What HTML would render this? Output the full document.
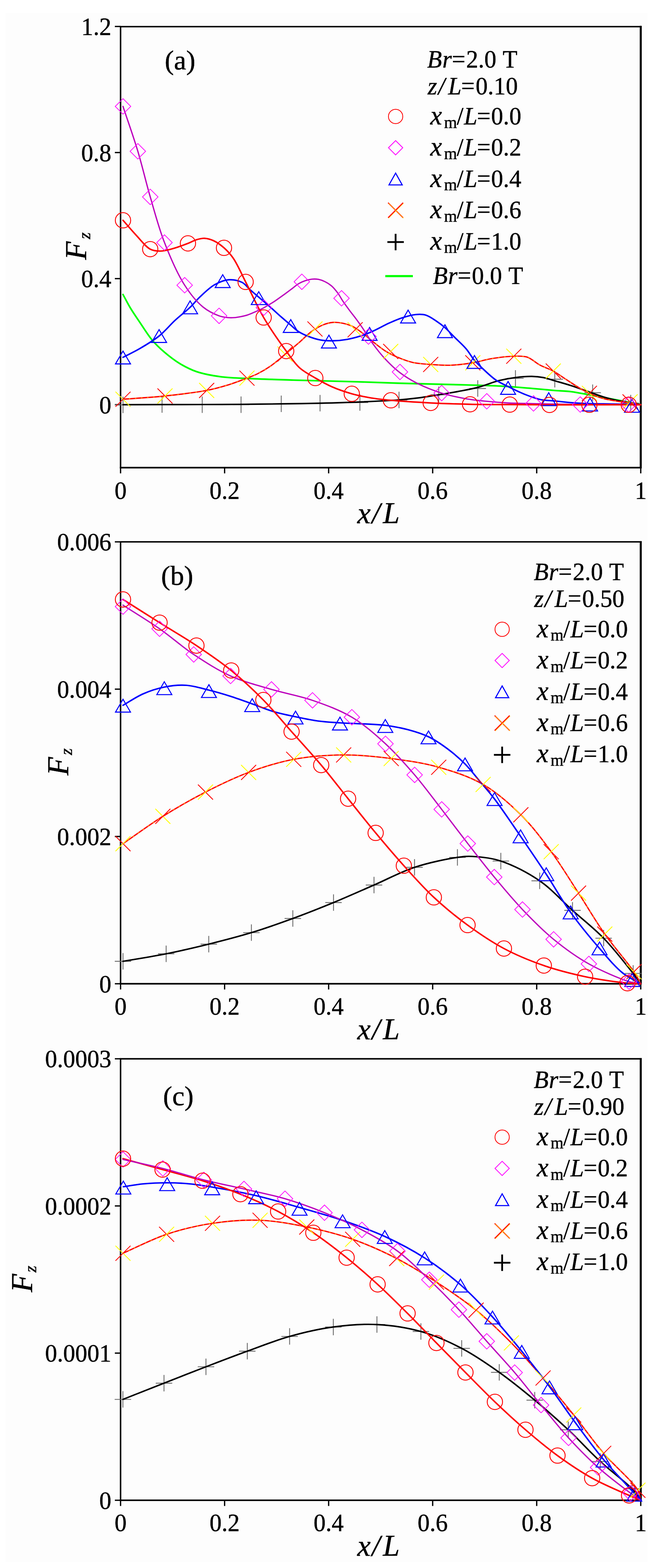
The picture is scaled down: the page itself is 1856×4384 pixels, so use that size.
<!DOCTYPE html>
<html><head><meta charset="utf-8"><title>Fz vs x/L</title>
<style>html,body{margin:0;padding:0;background:#fff;width:1856px;height:4384px;overflow:hidden}svg{display:block}</style>
</head><body>
<svg width="1856" height="4384" viewBox="0 0 1856 4384" font-family="'Liberation Serif', serif" fill="#000">
<style>text{stroke:#000;stroke-width:0.7px;paint-order:stroke}</style>
<rect x="0" y="0" width="1856" height="4384" fill="#ffffff"/>
<rect x="16" y="36" width="1794" height="4331" fill="#fdfdfd"/>
<path d="M1791.0,74.5V1307.5H337.0" fill="none" stroke="#000" stroke-width="4.4" stroke-linecap="square"/>
<path d="M337.0,1307.5V74.5H1791.0" fill="none" stroke="#000" stroke-width="4.2" stroke-linecap="square"/>
<path d="M1791.0,72.5V1309.5" fill="none" stroke="#000" stroke-width="5.6"/>
<path d="M321.0,74.0H337.0" stroke="#000" stroke-width="3.6"/>
<path d="M321.0,426.5H337.0" stroke="#000" stroke-width="3.6"/>
<path d="M321.0,779.0H337.0" stroke="#000" stroke-width="3.6"/>
<path d="M321.0,1131.5H337.0" stroke="#000" stroke-width="3.6"/>
<text transform="translate(311.3,98.0) scale(0.970,1)" font-size="69.5" text-anchor="end"><tspan >1.2</tspan></text>
<text transform="translate(311.3,450.5) scale(0.970,1)" font-size="69.5" text-anchor="end"><tspan >0.8</tspan></text>
<text transform="translate(311.3,803.0) scale(0.970,1)" font-size="69.5" text-anchor="end"><tspan >0.4</tspan></text>
<text transform="translate(311.3,1155.5) scale(0.970,1)" font-size="69.5" text-anchor="end"><tspan >0</tspan></text>
<path d="M337.0,1307.5V1323.5" stroke="#000" stroke-width="3.6"/>
<path d="M627.8,1307.5V1323.5" stroke="#000" stroke-width="3.6"/>
<path d="M918.6,1307.5V1323.5" stroke="#000" stroke-width="3.6"/>
<path d="M1209.4,1307.5V1323.5" stroke="#000" stroke-width="3.6"/>
<path d="M1500.2,1307.5V1323.5" stroke="#000" stroke-width="3.6"/>
<path d="M1791.0,1307.5V1323.5" stroke="#000" stroke-width="3.6"/>
<text transform="translate(337.0,1394.5) scale(0.970,1)" font-size="69.5" text-anchor="middle"><tspan >0</tspan></text>
<text transform="translate(627.8,1394.5) scale(0.970,1)" font-size="69.5" text-anchor="middle"><tspan >0.2</tspan></text>
<text transform="translate(918.6,1394.5) scale(0.970,1)" font-size="69.5" text-anchor="middle"><tspan >0.4</tspan></text>
<text transform="translate(1209.4,1394.5) scale(0.970,1)" font-size="69.5" text-anchor="middle"><tspan >0.6</tspan></text>
<text transform="translate(1500.2,1394.5) scale(0.970,1)" font-size="69.5" text-anchor="middle"><tspan >0.8</tspan></text>
<text transform="translate(1791.0,1394.5) scale(0.970,1)" font-size="69.5" text-anchor="middle"><tspan >1</tspan></text>
<text x="998.8" y="1462.5" font-size="84" font-style="italic">x<tspan x="1039.5">/</tspan><tspan x="1070.6">L</tspan></text>
<text transform="translate(241.0,726.6) rotate(-90)" font-size="84" font-style="italic">F<tspan font-size="48" dx="6.8" dy="11.0">z</tspan></text>
<text x="460.6" y="194.4" font-size="77">(a)</text>
<path d="M320.8,1132.0L366.8,1132.0M343.8,1109.0L343.8,1155.0" stroke="#6a6a6a" stroke-width="2.4"/>
<path d="M430.0,1131.0L476.0,1131.0M453.0,1108.0L453.0,1154.0" stroke="#6a6a6a" stroke-width="2.4"/>
<path d="M542.2,1131.4L588.2,1131.4M565.2,1108.4L565.2,1154.4" stroke="#6a6a6a" stroke-width="2.4"/>
<path d="M650.8,1131.4L696.8,1131.4M673.8,1108.4L673.8,1154.4" stroke="#6a6a6a" stroke-width="2.4"/>
<path d="M763.1,1129.0L809.1,1129.0M786.1,1106.0L786.1,1152.0" stroke="#6a6a6a" stroke-width="2.4"/>
<path d="M871.6,1127.3L917.6,1127.3M894.6,1104.3L894.6,1150.3" stroke="#6a6a6a" stroke-width="2.4"/>
<path d="M983.0,1125.5L1029.0,1125.5M1006.0,1102.5L1006.0,1148.5" stroke="#6a6a6a" stroke-width="2.4"/>
<path d="M1092.3,1118.2L1138.3,1118.2M1115.3,1095.2L1115.3,1141.2" stroke="#6a6a6a" stroke-width="2.4"/>
<path d="M1203.3,1103.7L1249.3,1103.7M1226.3,1080.7L1226.3,1126.7" stroke="#6a6a6a" stroke-width="2.4"/>
<path d="M1312.4,1086.3L1358.4,1086.3M1335.4,1063.3L1335.4,1109.3" stroke="#6a6a6a" stroke-width="2.4"/>
<path d="M1417.8,1057.9L1463.8,1057.9M1440.8,1034.9L1440.8,1080.9" stroke="#6a6a6a" stroke-width="2.4"/>
<path d="M1527.8,1060.2L1573.8,1060.2M1550.8,1037.2L1550.8,1083.2" stroke="#6a6a6a" stroke-width="2.4"/>
<path d="M1633.6,1098.0L1679.6,1098.0M1656.6,1075.0L1656.6,1121.0" stroke="#6a6a6a" stroke-width="2.4"/>
<path d="M1740.0,1127.0L1786.0,1127.0M1763.0,1104.0L1763.0,1150.0" stroke="#6a6a6a" stroke-width="2.4"/>
<path d="M343.8,823.5 C350.9,836.3 357.4,849.4 365.0,862.0 C372.8,874.9 380.9,886.5 390.0,900.0 C400.7,915.8 412.9,936.2 425.4,951.0 C436.4,964.1 447.4,974.3 460.0,985.0 C473.3,996.3 488.2,1007.9 503.3,1017.0 C518.0,1025.8 532.0,1033.1 549.2,1039.0 C569.4,1045.9 594.6,1050.3 617.9,1053.5 C641.6,1056.7 662.7,1056.7 690.3,1058.1 C727.3,1059.9 773.2,1061.2 820.0,1062.7 C875.1,1064.4 946.1,1065.9 1000.0,1067.5 C1044.0,1068.8 1082.7,1070.5 1120.0,1071.6 C1152.6,1072.6 1181.1,1073.1 1211.7,1073.9 C1242.2,1074.7 1272.4,1075.3 1303.3,1076.2 C1335.1,1077.1 1368.7,1077.8 1400.0,1079.5 C1429.7,1081.1 1460.0,1083.8 1486.6,1086.0 C1509.4,1087.9 1530.6,1090.1 1550.0,1091.7 C1566.5,1093.0 1580.6,1093.1 1595.8,1095.0 C1611.1,1096.9 1624.0,1099.8 1641.7,1103.0 C1666.1,1107.4 1702.1,1114.0 1728.7,1119.0 C1751.2,1123.2 1770.2,1127.0 1791.0,1131.0" fill="none" stroke="#00ff00" stroke-width="4.6" stroke-linejoin="round" stroke-linecap="round" />
<path d="M343.8,1131.5 C380.2,1131.4 416.4,1131.3 453.0,1131.2 C490.1,1131.1 527.9,1131.1 565.0,1131.0 C601.6,1130.9 637.4,1130.8 674.0,1130.5 C711.1,1130.2 749.0,1129.7 786.0,1129.2 C822.5,1128.7 858.2,1128.2 894.6,1127.3 C931.5,1126.4 969.1,1125.4 1006.0,1123.8 C1042.5,1122.3 1085.5,1120.3 1115.0,1118.0 C1135.2,1116.5 1148.3,1115.1 1166.0,1112.9 C1185.3,1110.5 1206.8,1106.8 1226.3,1103.7 C1244.7,1100.7 1262.0,1098.0 1280.0,1094.6 C1298.4,1091.1 1316.7,1088.0 1335.4,1083.1 C1355.0,1077.9 1376.3,1068.7 1395.0,1064.0 C1411.1,1060.0 1425.5,1057.5 1440.8,1055.6 C1456.0,1053.7 1472.7,1052.2 1486.6,1052.4 C1498.3,1052.6 1508.2,1053.6 1518.7,1055.6 C1529.3,1057.6 1538.6,1061.2 1550.0,1064.5 C1563.8,1068.5 1580.6,1073.1 1595.8,1078.0 C1611.2,1082.9 1626.4,1088.7 1641.7,1094.0 C1657.0,1099.3 1672.1,1105.4 1687.5,1110.0 C1702.7,1114.5 1717.1,1118.0 1733.3,1121.4 C1751.4,1125.1 1771.8,1127.8 1791.0,1131.0" fill="none" stroke="#000" stroke-width="4.2" stroke-linejoin="round" stroke-linecap="round" />
<path d="M343.8,1116.3 C382.9,1113.2 422.2,1111.2 461.2,1107.1 C500.1,1103.0 545.7,1097.8 577.6,1091.6 C600.2,1087.2 616.2,1082.7 635.0,1077.0 C653.7,1071.3 674.8,1063.2 690.3,1057.2 C701.8,1052.8 709.8,1050.1 720.0,1045.0 C731.9,1039.1 744.8,1031.5 757.0,1023.0 C770.3,1013.7 783.6,1001.8 796.6,991.0 C809.6,980.3 822.5,969.5 835.0,958.7 C847.3,948.1 858.9,935.3 871.0,926.6 C881.6,919.0 892.4,912.5 903.0,908.3 C912.4,904.5 921.7,902.1 931.0,901.4 C940.0,900.7 949.0,901.9 958.0,903.7 C967.4,905.6 977.0,908.5 986.0,912.9 C995.4,917.5 1004.1,924.5 1013.0,931.2 C1022.4,938.2 1031.0,946.2 1041.0,954.1 C1052.3,963.0 1065.0,973.8 1077.5,981.6 C1089.3,988.9 1101.3,994.6 1114.0,999.9 C1127.1,1005.4 1140.5,1010.5 1155.0,1013.7 C1170.4,1017.1 1187.2,1017.8 1203.9,1019.0 C1221.3,1020.3 1238.9,1021.8 1257.5,1021.2 C1277.9,1020.5 1301.6,1017.7 1321.6,1014.4 C1339.5,1011.4 1354.1,1006.0 1372.0,1003.0 C1392.0,999.7 1417.7,996.4 1436.2,996.0 C1450.1,995.7 1461.2,994.5 1473.0,998.3 C1485.9,1002.4 1497.5,1014.6 1510.0,1021.2 C1521.9,1027.5 1534.8,1031.1 1546.2,1037.3 C1557.4,1043.4 1566.7,1050.7 1578.0,1058.0 C1591.0,1066.4 1607.3,1077.5 1620.0,1085.0 C1630.0,1090.9 1637.3,1095.2 1647.5,1099.8 C1659.4,1105.2 1673.8,1110.8 1687.5,1114.6 C1701.3,1118.4 1716.9,1120.5 1730.0,1122.5 C1741.1,1124.2 1750.9,1124.5 1761.1,1126.0 C1771.2,1127.5 1781.0,1129.7 1791.0,1131.5" fill="none" stroke="#ff0000" stroke-width="3.6" stroke-linejoin="round" stroke-linecap="round" /><path d="M343.8,1116.3 C382.9,1113.2 422.2,1111.2 461.2,1107.1 C500.1,1103.0 545.7,1097.8 577.6,1091.6 C600.2,1087.2 616.2,1082.7 635.0,1077.0 C653.7,1071.3 674.8,1063.2 690.3,1057.2 C701.8,1052.8 709.8,1050.1 720.0,1045.0 C731.9,1039.1 744.8,1031.5 757.0,1023.0 C770.3,1013.7 783.6,1001.8 796.6,991.0 C809.6,980.3 822.5,969.5 835.0,958.7 C847.3,948.1 858.9,935.3 871.0,926.6 C881.6,919.0 892.4,912.5 903.0,908.3 C912.4,904.5 921.7,902.1 931.0,901.4 C940.0,900.7 949.0,901.9 958.0,903.7 C967.4,905.6 977.0,908.5 986.0,912.9 C995.4,917.5 1004.1,924.5 1013.0,931.2 C1022.4,938.2 1031.0,946.2 1041.0,954.1 C1052.3,963.0 1065.0,973.8 1077.5,981.6 C1089.3,988.9 1101.3,994.6 1114.0,999.9 C1127.1,1005.4 1140.5,1010.5 1155.0,1013.7 C1170.4,1017.1 1187.2,1017.8 1203.9,1019.0 C1221.3,1020.3 1238.9,1021.8 1257.5,1021.2 C1277.9,1020.5 1301.6,1017.7 1321.6,1014.4 C1339.5,1011.4 1354.1,1006.0 1372.0,1003.0 C1392.0,999.7 1417.7,996.4 1436.2,996.0 C1450.1,995.7 1461.2,994.5 1473.0,998.3 C1485.9,1002.4 1497.5,1014.6 1510.0,1021.2 C1521.9,1027.5 1534.8,1031.1 1546.2,1037.3 C1557.4,1043.4 1566.7,1050.7 1578.0,1058.0 C1591.0,1066.4 1607.3,1077.5 1620.0,1085.0 C1630.0,1090.9 1637.3,1095.2 1647.5,1099.8 C1659.4,1105.2 1673.8,1110.8 1687.5,1114.6 C1701.3,1118.4 1716.9,1120.5 1730.0,1122.5 C1741.1,1124.2 1750.9,1124.5 1761.1,1126.0 C1771.2,1127.5 1781.0,1129.7 1791.0,1131.5" fill="none" stroke="#ffff00" stroke-width="1.4" stroke-linejoin="round" stroke-linecap="round" stroke-dasharray="3,14"/>
<path d="M343.8,999.0 C359.2,991.0 374.2,984.2 390.0,975.0 C407.7,964.7 427.9,952.9 444.7,939.5 C461.2,926.2 475.0,908.8 490.0,895.0 C503.9,882.2 519.3,870.8 531.3,859.3 C541.4,849.6 547.8,840.6 558.0,831.0 C570.1,819.6 585.4,804.2 600.0,796.0 C612.9,788.7 626.8,783.1 640.0,782.2 C652.4,781.4 666.6,784.4 676.7,789.5 C685.7,794.1 691.0,802.9 698.7,809.7 C706.9,816.9 715.8,824.4 724.3,831.7 C732.9,839.0 740.7,845.6 750.0,853.7 C761.2,863.5 775.5,876.9 786.7,886.7 C796.0,894.8 804.1,901.7 812.3,908.7 C819.9,915.1 826.4,921.8 834.3,927.0 C842.3,932.2 850.5,936.0 860.0,939.8 C871.0,944.1 884.3,948.7 896.6,950.8 C908.7,952.9 921.1,953.0 933.3,952.7 C945.5,952.4 957.9,951.1 970.0,949.0 C982.3,946.8 994.8,943.5 1006.6,939.8 C1018.1,936.2 1028.1,932.2 1040.0,927.0 C1054.5,920.7 1072.3,910.4 1087.0,903.7 C1099.7,898.0 1110.6,893.0 1123.0,889.0 C1135.6,884.9 1150.0,880.6 1162.0,879.5 C1172.0,878.6 1180.8,878.3 1190.0,881.0 C1200.2,884.0 1210.8,891.9 1220.0,898.0 C1228.6,903.6 1235.8,909.1 1243.7,916.0 C1252.7,923.9 1261.5,933.8 1271.0,943.3 C1281.2,953.6 1293.6,964.3 1303.0,975.4 C1311.8,985.8 1318.1,998.0 1326.2,1007.5 C1333.5,1016.1 1340.3,1022.3 1349.0,1030.4 C1359.7,1040.4 1373.4,1053.8 1386.0,1062.5 C1397.2,1070.2 1408.0,1074.7 1420.2,1080.8 C1433.8,1087.6 1449.0,1095.4 1464.0,1101.4 C1479.0,1107.4 1495.0,1113.8 1510.0,1117.0 C1523.6,1120.0 1535.9,1119.6 1550.0,1121.0 C1565.7,1122.6 1583.4,1124.7 1600.0,1126.0 C1616.5,1127.2 1632.0,1127.9 1649.3,1128.5 C1668.5,1129.1 1690.1,1129.1 1710.0,1129.5 C1729.2,1129.9 1751.6,1130.6 1766.6,1131.0 C1776.4,1131.2 1782.9,1131.3 1791.0,1131.5" fill="none" stroke="#0000ff" stroke-width="4.2" stroke-linejoin="round" stroke-linecap="round" />
<path d="M343.8,297.5 C357.6,339.3 372.6,380.8 385.3,423.0 C398.0,465.2 407.6,508.2 420.0,550.6 C432.4,593.2 443.7,636.9 459.8,678.2 C475.8,719.2 495.7,765.4 516.2,797.4 C532.1,822.2 549.1,843.3 567.0,858.0 C581.5,869.9 599.3,878.3 612.4,883.1 C621.5,886.4 629.1,887.2 636.7,888.0 C643.2,888.6 648.9,888.5 655.0,888.0 C661.1,887.5 667.2,886.4 673.3,885.2 C679.5,884.0 685.6,882.7 691.7,880.7 C697.9,878.7 703.4,876.2 710.0,873.3 C718.1,869.8 729.9,864.5 736.6,861.0 C740.8,858.8 742.8,857.3 746.7,855.0 C751.9,851.9 759.0,847.9 765.0,844.0 C771.2,840.0 777.5,835.3 783.3,831.2 C788.6,827.5 793.1,824.3 798.3,820.5 C804.1,816.2 810.6,811.3 816.7,806.7 C822.8,802.1 828.7,796.7 835.0,793.0 C840.9,789.5 847.1,786.8 853.3,784.7 C859.3,782.7 865.5,781.1 871.7,780.5 C877.8,779.9 884.0,780.0 890.0,781.1 C896.2,782.3 902.4,784.6 908.3,787.5 C914.6,790.6 920.9,794.4 926.7,799.4 C933.2,805.1 939.6,813.2 945.0,820.5 C950.1,827.4 953.4,834.4 958.3,841.8 C963.8,850.0 970.5,859.1 976.7,867.5 C982.7,875.6 989.0,883.2 995.0,891.3 C1001.2,899.6 1006.7,907.3 1013.3,917.0 C1021.7,929.3 1030.6,945.2 1040.8,959.2 C1051.7,974.2 1064.0,990.1 1077.0,1004.0 C1089.8,1017.7 1103.2,1030.8 1118.0,1042.0 C1132.9,1053.3 1148.1,1062.6 1166.0,1071.6 C1186.4,1081.9 1211.5,1091.8 1234.6,1099.1 C1257.1,1106.2 1281.1,1111.1 1303.0,1115.0 C1322.9,1118.5 1341.2,1120.1 1360.6,1122.0 C1380.2,1124.0 1399.3,1125.5 1420.0,1126.6 C1442.6,1127.8 1463.9,1127.9 1491.2,1128.5 C1528.2,1129.3 1577.9,1130.5 1621.8,1131.0 C1666.5,1131.5 1726.9,1131.2 1757.0,1131.3 C1772.1,1131.4 1779.7,1131.4 1791.0,1131.5" fill="none" stroke="#bc00bc" stroke-width="3.6" stroke-linejoin="round" stroke-linecap="round" />
<path d="M343.8,615.9 C355.9,629.6 367.4,643.6 380.0,657.0 C392.8,670.5 406.8,689.7 419.9,696.6 C429.1,701.5 437.5,701.9 447.0,702.0 C457.5,702.1 468.3,699.1 480.0,696.0 C494.0,692.3 512.5,685.4 525.3,680.5 C534.8,676.8 541.9,672.4 550.0,670.0 C557.4,667.8 564.5,665.9 572.0,666.3 C580.1,666.7 588.7,669.2 597.0,673.0 C606.7,677.5 617.1,685.0 626.1,692.9 C635.5,701.2 643.5,709.7 652.0,722.0 C663.8,739.1 674.1,763.8 686.6,788.2 C701.9,818.0 718.2,855.6 737.0,887.7 C756.0,920.1 781.3,956.1 800.0,981.6 C813.5,1000.1 823.0,1015.2 837.0,1028.0 C850.3,1040.1 866.2,1048.0 881.4,1056.9 C896.5,1065.8 911.5,1074.3 928.0,1081.5 C945.4,1089.1 964.8,1095.7 983.3,1100.9 C1001.4,1106.0 1019.7,1109.6 1038.0,1112.7 C1056.1,1115.7 1071.2,1117.2 1092.6,1119.2 C1123.1,1122.0 1166.9,1124.7 1203.9,1126.6 C1240.7,1128.4 1277.1,1129.5 1313.9,1130.3 C1350.8,1131.1 1387.9,1131.0 1424.9,1131.2 C1461.9,1131.5 1499.0,1131.7 1536.1,1131.8 C1573.2,1131.9 1610.5,1131.7 1647.5,1131.7 C1684.3,1131.7 1731.4,1131.7 1757.5,1131.7 C1771.9,1131.7 1779.8,1131.7 1791.0,1131.7" fill="none" stroke="#ff0000" stroke-width="4.2" stroke-linejoin="round" stroke-linecap="round" />
<path d="M322.8,1095.3L364.8,1137.3" stroke="#ffff00" stroke-width="2.3"/><path d="M322.8,1137.3L364.8,1095.3" stroke="#ff0000" stroke-width="2.3"/>
<path d="M440.2,1086.1L482.2,1128.1" stroke="#ff0000" stroke-width="2.3"/><path d="M440.2,1128.1L482.2,1086.1" stroke="#ffff00" stroke-width="2.3"/>
<path d="M556.6,1070.6L598.6,1112.6" stroke="#ffff00" stroke-width="2.3"/><path d="M556.6,1112.6L598.6,1070.6" stroke="#ff0000" stroke-width="2.3"/>
<path d="M669.3,1036.2L711.3,1078.2" stroke="#ff0000" stroke-width="2.3"/><path d="M669.3,1078.2L711.3,1036.2" stroke="#ffff00" stroke-width="2.3"/>
<path d="M775.6,969.0L817.6,1011.0" stroke="#ffff00" stroke-width="2.3"/><path d="M775.6,1011.0L817.6,969.0" stroke="#ff0000" stroke-width="2.3"/>
<path d="M859.4,898.8L901.4,940.8" stroke="#ff0000" stroke-width="2.3"/><path d="M859.4,940.8L901.4,898.8" stroke="#ffff00" stroke-width="2.3"/>
<path d="M971.7,901.0L1013.7,943.0" stroke="#ffff00" stroke-width="2.3"/><path d="M971.7,943.0L1013.7,901.0" stroke="#ff0000" stroke-width="2.3"/>
<path d="M1071.1,961.6L1113.1,1003.6" stroke="#ff0000" stroke-width="2.3"/><path d="M1071.1,1003.6L1113.1,961.6" stroke="#ffff00" stroke-width="2.3"/>
<path d="M1182.9,998.0L1224.9,1040.0" stroke="#ffff00" stroke-width="2.3"/><path d="M1182.9,1040.0L1224.9,998.0" stroke="#ff0000" stroke-width="2.3"/>
<path d="M1300.6,993.4L1342.6,1035.4" stroke="#ff0000" stroke-width="2.3"/><path d="M1300.6,1035.4L1342.6,993.4" stroke="#ffff00" stroke-width="2.3"/>
<path d="M1415.2,975.0L1457.2,1017.0" stroke="#ffff00" stroke-width="2.3"/><path d="M1415.2,1017.0L1457.2,975.0" stroke="#ff0000" stroke-width="2.3"/>
<path d="M1525.5,1016.4L1567.5,1058.4" stroke="#ff0000" stroke-width="2.3"/><path d="M1525.5,1058.4L1567.5,1016.4" stroke="#ffff00" stroke-width="2.3"/>
<path d="M1626.5,1078.8L1668.5,1120.8" stroke="#ffff00" stroke-width="2.3"/><path d="M1626.5,1120.8L1668.5,1078.8" stroke="#ff0000" stroke-width="2.3"/>
<path d="M1740.1,1102.6L1782.1,1144.6" stroke="#ff0000" stroke-width="2.3"/><path d="M1740.1,1144.6L1782.1,1102.6" stroke="#ffff00" stroke-width="2.3"/>
<path d="M343.8,981.5L364.8,1017.5L322.8,1017.5Z" fill="none" stroke="#0000ff" stroke-width="2.8" stroke-linejoin="miter"/>
<path d="M444.7,921.5L465.7,957.5L423.7,957.5Z" fill="none" stroke="#0000ff" stroke-width="2.8" stroke-linejoin="miter"/>
<path d="M531.3,841.3L552.3,877.3L510.3,877.3Z" fill="none" stroke="#0000ff" stroke-width="2.8" stroke-linejoin="miter"/>
<path d="M622.5,768.0L643.5,804.0L601.5,804.0Z" fill="none" stroke="#0000ff" stroke-width="2.8" stroke-linejoin="miter"/>
<path d="M723.3,815.6L744.3,851.6L702.3,851.6Z" fill="none" stroke="#0000ff" stroke-width="2.8" stroke-linejoin="miter"/>
<path d="M812.7,893.5L833.7,929.5L791.7,929.5Z" fill="none" stroke="#0000ff" stroke-width="2.8" stroke-linejoin="miter"/>
<path d="M919.4,937.0L940.4,973.0L898.4,973.0Z" fill="none" stroke="#0000ff" stroke-width="2.8" stroke-linejoin="miter"/>
<path d="M1033.0,915.5L1054.0,951.5L1012.0,951.5Z" fill="none" stroke="#0000ff" stroke-width="2.8" stroke-linejoin="miter"/>
<path d="M1140.7,867.0L1161.7,903.0L1119.7,903.0Z" fill="none" stroke="#0000ff" stroke-width="2.8" stroke-linejoin="miter"/>
<path d="M1243.7,908.0L1264.7,944.0L1222.7,944.0Z" fill="none" stroke="#0000ff" stroke-width="2.8" stroke-linejoin="miter"/>
<path d="M1326.2,994.0L1347.2,1030.0L1305.2,1030.0Z" fill="none" stroke="#0000ff" stroke-width="2.8" stroke-linejoin="miter"/>
<path d="M1420.2,1066.5L1441.2,1102.5L1399.2,1102.5Z" fill="none" stroke="#0000ff" stroke-width="2.8" stroke-linejoin="miter"/>
<path d="M1533.8,1098.0L1554.8,1134.0L1512.8,1134.0Z" fill="none" stroke="#0000ff" stroke-width="2.8" stroke-linejoin="miter"/>
<path d="M1649.3,1113.0L1670.3,1149.0L1628.3,1149.0Z" fill="none" stroke="#0000ff" stroke-width="2.8" stroke-linejoin="miter"/>
<path d="M1766.6,1116.6L1787.6,1152.6L1745.6,1152.6Z" fill="none" stroke="#0000ff" stroke-width="2.8" stroke-linejoin="miter"/>
<path d="M343.8,275.8L365.5,297.5L343.8,319.2L322.1,297.5Z" fill="none" stroke="#ff00ff" stroke-width="2.0"/>
<path d="M385.3,401.3L407.0,423.0L385.3,444.7L363.6,423.0Z" fill="none" stroke="#ff00ff" stroke-width="2.0"/>
<path d="M420.0,528.9L441.7,550.6L420.0,572.3L398.3,550.6Z" fill="none" stroke="#ff00ff" stroke-width="2.0"/>
<path d="M459.8,656.5L481.5,678.2L459.8,699.9L438.1,678.2Z" fill="none" stroke="#ff00ff" stroke-width="2.0"/>
<path d="M516.2,775.7L537.9,797.4L516.2,819.1L494.5,797.4Z" fill="none" stroke="#ff00ff" stroke-width="2.0"/>
<path d="M612.4,861.4L634.1,883.1L612.4,904.8L590.7,883.1Z" fill="none" stroke="#ff00ff" stroke-width="2.0"/>
<path d="M737.5,838.3L759.2,860.0L737.5,881.7L715.8,860.0Z" fill="none" stroke="#ff00ff" stroke-width="2.0"/>
<path d="M843.7,766.1L865.4,787.8L843.7,809.5L822.0,787.8Z" fill="none" stroke="#ff00ff" stroke-width="2.0"/>
<path d="M954.6,812.3L976.3,834.0L954.6,855.7L932.9,834.0Z" fill="none" stroke="#ff00ff" stroke-width="2.0"/>
<path d="M1030.0,919.3L1051.7,941.0L1030.0,962.7L1008.3,941.0Z" fill="none" stroke="#ff00ff" stroke-width="2.0"/>
<path d="M1118.0,1018.3L1139.7,1040.0L1118.0,1061.7L1096.3,1040.0Z" fill="none" stroke="#ff00ff" stroke-width="2.0"/>
<path d="M1234.6,1077.4L1256.3,1099.1L1234.6,1120.8L1212.9,1099.1Z" fill="none" stroke="#ff00ff" stroke-width="2.0"/>
<path d="M1360.6,1100.3L1382.3,1122.0L1360.6,1143.7L1338.9,1122.0Z" fill="none" stroke="#ff00ff" stroke-width="2.0"/>
<path d="M1491.2,1106.3L1512.9,1128.0L1491.2,1149.7L1469.5,1128.0Z" fill="none" stroke="#ff00ff" stroke-width="2.0"/>
<path d="M1621.8,1109.3L1643.5,1131.0L1621.8,1152.7L1600.1,1131.0Z" fill="none" stroke="#ff00ff" stroke-width="2.0"/>
<path d="M1757.0,1109.3L1778.7,1131.0L1757.0,1152.7L1735.3,1131.0Z" fill="none" stroke="#ff00ff" stroke-width="2.0"/>
<circle cx="343.8" cy="615.9" r="21.4" fill="none" stroke="#ff0000" stroke-width="2.5"/>
<circle cx="419.9" cy="696.6" r="21.4" fill="none" stroke="#ff0000" stroke-width="2.5"/>
<circle cx="525.3" cy="680.5" r="21.4" fill="none" stroke="#ff0000" stroke-width="2.5"/>
<circle cx="626.1" cy="692.9" r="21.4" fill="none" stroke="#ff0000" stroke-width="2.5"/>
<circle cx="686.6" cy="788.2" r="21.4" fill="none" stroke="#ff0000" stroke-width="2.5"/>
<circle cx="737.0" cy="887.7" r="21.4" fill="none" stroke="#ff0000" stroke-width="2.5"/>
<circle cx="800.0" cy="981.6" r="21.4" fill="none" stroke="#ff0000" stroke-width="2.5"/>
<circle cx="881.4" cy="1056.9" r="21.4" fill="none" stroke="#ff0000" stroke-width="2.5"/>
<circle cx="983.3" cy="1100.9" r="21.4" fill="none" stroke="#ff0000" stroke-width="2.5"/>
<circle cx="1092.6" cy="1119.2" r="21.4" fill="none" stroke="#ff0000" stroke-width="2.5"/>
<circle cx="1203.9" cy="1126.6" r="21.4" fill="none" stroke="#ff0000" stroke-width="2.5"/>
<circle cx="1313.9" cy="1130.3" r="21.4" fill="none" stroke="#ff0000" stroke-width="2.5"/>
<circle cx="1424.9" cy="1131.2" r="21.4" fill="none" stroke="#ff0000" stroke-width="2.5"/>
<circle cx="1536.1" cy="1132.1" r="21.4" fill="none" stroke="#ff0000" stroke-width="2.5"/>
<circle cx="1647.5" cy="1131.7" r="21.4" fill="none" stroke="#ff0000" stroke-width="2.5"/>
<circle cx="1757.5" cy="1131.7" r="21.4" fill="none" stroke="#ff0000" stroke-width="2.5"/>
<text transform="translate(1194.1,188.5) scale(0.970,1)" font-size="69.5" text-anchor="start"><tspan x="0.0" font-style="italic">B</tspan><tspan x="43.7" font-style="italic">r</tspan><tspan x="71.1" >=</tspan><tspan x="112.4" >2.0</tspan><tspan x="217.5" >T</tspan></text>
<text transform="translate(1195.4,263.5) scale(0.970,1)" font-size="69.5" text-anchor="start"><tspan x="0.0" font-style="italic">z</tspan><tspan x="30.5" font-style="italic">/</tspan><tspan x="58.8" font-style="italic">L</tspan><tspan x="96.6" >=</tspan><tspan x="138.2" >0.10</tspan></text>
<circle cx="1105.8" cy="325.7" r="20.0" fill="none" stroke="#ff0000" stroke-width="2.2"/>
<text transform="translate(1202.8,348.0) scale(0.970,1)" font-size="69.5" text-anchor="start"><tspan x="0.0" font-style="italic" font-size="76">x</tspan><tspan x="39.7" font-size="48" dy="9.5">m</tspan><tspan x="76.3" dy="-9.5">/</tspan><tspan x="96.9" font-style="italic">L</tspan><tspan x="134.6" >=</tspan><tspan x="175.3" >0.0</tspan></text>
<path d="M1105.8,393.1L1125.8,413.1L1105.8,433.1L1085.8,413.1Z" fill="none" stroke="#ff00ff" stroke-width="2.2"/>
<text transform="translate(1202.8,435.4) scale(0.970,1)" font-size="69.5" text-anchor="start"><tspan x="0.0" font-style="italic" font-size="76">x</tspan><tspan x="39.7" font-size="48" dy="9.5">m</tspan><tspan x="76.3" dy="-9.5">/</tspan><tspan x="96.9" font-style="italic">L</tspan><tspan x="134.6" >=</tspan><tspan x="175.3" >0.2</tspan></text>
<path d="M1105.8,484.0L1124.3,517.0L1087.3,517.0Z" fill="none" stroke="#0000ff" stroke-width="3.0" stroke-linejoin="miter"/>
<text transform="translate(1202.8,522.8) scale(0.970,1)" font-size="69.5" text-anchor="start"><tspan x="0.0" font-style="italic" font-size="76">x</tspan><tspan x="39.7" font-size="48" dy="9.5">m</tspan><tspan x="76.3" dy="-9.5">/</tspan><tspan x="96.9" font-style="italic">L</tspan><tspan x="134.6" >=</tspan><tspan x="175.3" >0.4</tspan></text>
<path d="M1084.8,566.9L1126.8,608.9" stroke="#ff0000" stroke-width="3.0"/><path d="M1084.8,608.9L1126.8,566.9" stroke="#ff0000" stroke-width="3.0"/><path d="M1084.8,566.9L1126.8,608.9M1084.8,608.9L1126.8,566.9" stroke="#ffff00" stroke-width="1.2" transform="translate(1.5,1.5)"/>
<text transform="translate(1202.8,610.2) scale(0.970,1)" font-size="69.5" text-anchor="start"><tspan x="0.0" font-style="italic" font-size="76">x</tspan><tspan x="39.7" font-size="48" dy="9.5">m</tspan><tspan x="76.3" dy="-9.5">/</tspan><tspan x="96.9" font-style="italic">L</tspan><tspan x="134.6" >=</tspan><tspan x="175.3" >0.6</tspan></text>
<path d="M1082.8,676.8L1128.8,676.8M1105.8,653.8L1105.8,699.8" stroke="#000" stroke-width="5.0"/>
<text transform="translate(1202.8,697.6) scale(0.970,1)" font-size="69.5" text-anchor="start"><tspan x="0.0" font-style="italic" font-size="76">x</tspan><tspan x="39.7" font-size="48" dy="9.5">m</tspan><tspan x="76.3" dy="-9.5">/</tspan><tspan x="96.9" font-style="italic">L</tspan><tspan x="134.6" >=</tspan><tspan x="175.3" >1.0</tspan></text>
<path d="M1077.0,772.0H1154.0" stroke="#00ff00" stroke-width="6"/>
<text transform="translate(1210.0,793.5) scale(0.970,1)" font-size="69.5" text-anchor="start"><tspan x="0.0" font-style="italic">B</tspan><tspan x="43.7" font-style="italic">r</tspan><tspan x="71.1" >=</tspan><tspan x="112.4" >0.0</tspan><tspan x="217.5" >T</tspan></text>
<path d="M1791.0,1515.0V2750.5H337.0" fill="none" stroke="#000" stroke-width="4.4" stroke-linecap="square"/>
<path d="M337.0,2750.5V1515.0H1791.0" fill="none" stroke="#000" stroke-width="4.2" stroke-linecap="square"/>
<path d="M1791.0,1513.0V2752.5" fill="none" stroke="#000" stroke-width="5.6"/>
<path d="M321.0,1515.0H337.0" stroke="#000" stroke-width="3.6"/>
<path d="M321.0,1926.8H337.0" stroke="#000" stroke-width="3.6"/>
<path d="M321.0,2338.7H337.0" stroke="#000" stroke-width="3.6"/>
<path d="M321.0,2750.5H337.0" stroke="#000" stroke-width="3.6"/>
<text transform="translate(311.3,1539.0) scale(0.970,1)" font-size="69.5" text-anchor="end"><tspan >0.006</tspan></text>
<text transform="translate(311.3,1950.8) scale(0.970,1)" font-size="69.5" text-anchor="end"><tspan >0.004</tspan></text>
<text transform="translate(311.3,2362.7) scale(0.970,1)" font-size="69.5" text-anchor="end"><tspan >0.002</tspan></text>
<text transform="translate(311.3,2774.5) scale(0.970,1)" font-size="69.5" text-anchor="end"><tspan >0</tspan></text>
<path d="M337.0,2750.5V2766.5" stroke="#000" stroke-width="3.6"/>
<path d="M627.8,2750.5V2766.5" stroke="#000" stroke-width="3.6"/>
<path d="M918.6,2750.5V2766.5" stroke="#000" stroke-width="3.6"/>
<path d="M1209.4,2750.5V2766.5" stroke="#000" stroke-width="3.6"/>
<path d="M1500.2,2750.5V2766.5" stroke="#000" stroke-width="3.6"/>
<path d="M1791.0,2750.5V2766.5" stroke="#000" stroke-width="3.6"/>
<text transform="translate(337.0,2837.3) scale(0.970,1)" font-size="69.5" text-anchor="middle"><tspan >0</tspan></text>
<text transform="translate(627.8,2837.3) scale(0.970,1)" font-size="69.5" text-anchor="middle"><tspan >0.2</tspan></text>
<text transform="translate(918.6,2837.3) scale(0.970,1)" font-size="69.5" text-anchor="middle"><tspan >0.4</tspan></text>
<text transform="translate(1209.4,2837.3) scale(0.970,1)" font-size="69.5" text-anchor="middle"><tspan >0.6</tspan></text>
<text transform="translate(1500.2,2837.3) scale(0.970,1)" font-size="69.5" text-anchor="middle"><tspan >0.8</tspan></text>
<text transform="translate(1791.0,2837.3) scale(0.970,1)" font-size="69.5" text-anchor="middle"><tspan >1</tspan></text>
<text x="998.8" y="2905.5" font-size="84" font-style="italic">x<tspan x="1039.5">/</tspan><tspan x="1070.6">L</tspan></text>
<text transform="translate(190.7,2168.1) rotate(-90)" font-size="84" font-style="italic">F<tspan font-size="48" dx="5.7" dy="9.9">z</tspan></text>
<text x="450.3" y="1635.4" font-size="77">(b)</text>
<path d="M320.8,2687.8L366.8,2687.8M343.8,2664.8L343.8,2710.8" stroke="#6a6a6a" stroke-width="2.4"/>
<path d="M441.4,2666.7L487.4,2666.7M464.4,2643.7L464.4,2689.7" stroke="#6a6a6a" stroke-width="2.4"/>
<path d="M560.5,2639.7L606.5,2639.7M583.5,2616.7L583.5,2662.7" stroke="#6a6a6a" stroke-width="2.4"/>
<path d="M679.7,2607.6L725.7,2607.6M702.7,2584.6L702.7,2630.6" stroke="#6a6a6a" stroke-width="2.4"/>
<path d="M795.5,2568.0L841.5,2568.0M818.5,2545.0L818.5,2591.0" stroke="#6a6a6a" stroke-width="2.4"/>
<path d="M909.2,2523.5L955.2,2523.5M932.2,2500.5L932.2,2546.5" stroke="#6a6a6a" stroke-width="2.4"/>
<path d="M1022.4,2474.5L1068.4,2474.5M1045.4,2451.5L1045.4,2497.5" stroke="#6a6a6a" stroke-width="2.4"/>
<path d="M1135.7,2425.0L1181.7,2425.0M1158.7,2402.0L1158.7,2448.0" stroke="#6a6a6a" stroke-width="2.4"/>
<path d="M1255.6,2397.2L1301.6,2397.2M1278.6,2374.2L1278.6,2420.2" stroke="#6a6a6a" stroke-width="2.4"/>
<path d="M1376.9,2407.4L1422.9,2407.4M1399.9,2384.4L1399.9,2430.4" stroke="#6a6a6a" stroke-width="2.4"/>
<path d="M1485.5,2462.7L1531.5,2462.7M1508.5,2439.7L1508.5,2485.7" stroke="#6a6a6a" stroke-width="2.4"/>
<path d="M1577.2,2545.2L1623.2,2545.2M1600.2,2522.2L1600.2,2568.2" stroke="#6a6a6a" stroke-width="2.4"/>
<path d="M1664.3,2623.1L1710.3,2623.1M1687.3,2600.1L1687.3,2646.1" stroke="#6a6a6a" stroke-width="2.4"/>
<path d="M1746.8,2721.6L1792.8,2721.6M1769.8,2698.6L1769.8,2744.6" stroke="#6a6a6a" stroke-width="2.4"/>
<path d="M343.8,2687.8 C384.0,2680.8 424.4,2674.7 464.4,2666.7 C504.3,2658.7 543.9,2649.5 583.5,2639.7 C623.3,2629.8 663.5,2619.6 702.7,2607.6 C741.8,2595.7 780.2,2582.0 818.5,2568.0 C856.7,2554.0 894.5,2539.0 932.2,2523.5 C970.1,2507.9 1007.7,2490.9 1045.4,2474.5 C1083.2,2458.1 1119.8,2437.9 1158.7,2425.0 C1197.5,2412.1 1248.9,2401.6 1278.6,2397.2 C1295.9,2394.7 1304.0,2393.7 1320.0,2394.5 C1342.3,2395.6 1372.0,2398.3 1399.9,2407.4 C1434.2,2418.6 1475.2,2439.8 1508.5,2462.7 C1542.0,2485.7 1570.0,2518.1 1600.2,2545.2 C1629.6,2571.6 1659.6,2594.5 1687.3,2623.1 C1716.3,2653.1 1751.5,2698.3 1769.8,2721.6 C1779.4,2733.9 1783.9,2740.9 1791.0,2750.5" fill="none" stroke="#000" stroke-width="4.2" stroke-linejoin="round" stroke-linecap="round" />
<path d="M343.8,2358.9 C380.9,2333.4 416.9,2306.4 455.2,2282.4 C493.8,2258.3 534.1,2235.2 574.4,2214.6 C614.0,2194.3 653.7,2174.9 694.9,2159.6 C735.9,2144.4 777.5,2131.2 821.0,2123.0 C866.0,2114.6 914.6,2111.0 960.6,2110.7 C1005.4,2110.4 1049.4,2115.1 1093.5,2120.8 C1137.9,2126.6 1183.3,2133.0 1226.3,2145.2 C1269.0,2157.3 1312.4,2171.3 1350.5,2193.3 C1388.9,2215.5 1424.1,2246.7 1455.9,2278.1 C1487.5,2309.3 1514.1,2345.1 1540.7,2381.2 C1567.9,2418.0 1592.0,2458.5 1617.1,2497.1 C1641.9,2535.3 1664.5,2574.8 1690.5,2611.6 C1716.2,2648.0 1754.8,2691.2 1772.0,2717.0 C1781.2,2730.9 1784.7,2739.3 1791.0,2750.5" fill="none" stroke="#ff0000" stroke-width="3.6" stroke-linejoin="round" stroke-linecap="round" /><path d="M343.8,2358.9 C380.9,2333.4 416.9,2306.4 455.2,2282.4 C493.8,2258.3 534.1,2235.2 574.4,2214.6 C614.0,2194.3 653.7,2174.9 694.9,2159.6 C735.9,2144.4 777.5,2131.2 821.0,2123.0 C866.0,2114.6 914.6,2111.0 960.6,2110.7 C1005.4,2110.4 1049.4,2115.1 1093.5,2120.8 C1137.9,2126.6 1183.3,2133.0 1226.3,2145.2 C1269.0,2157.3 1312.4,2171.3 1350.5,2193.3 C1388.9,2215.5 1424.1,2246.7 1455.9,2278.1 C1487.5,2309.3 1514.1,2345.1 1540.7,2381.2 C1567.9,2418.0 1592.0,2458.5 1617.1,2497.1 C1641.9,2535.3 1664.5,2574.8 1690.5,2611.6 C1716.2,2648.0 1754.8,2691.2 1772.0,2717.0 C1781.2,2730.9 1784.7,2739.3 1791.0,2750.5" fill="none" stroke="#ffff00" stroke-width="1.4" stroke-linejoin="round" stroke-linecap="round" stroke-dasharray="3,14"/>
<path d="M343.8,1972.0 C362.5,1961.3 380.6,1948.5 400.0,1940.0 C419.1,1931.6 439.2,1925.0 459.3,1921.0 C479.2,1917.0 499.6,1914.7 520.0,1916.0 C541.1,1917.3 563.0,1924.3 584.0,1929.5 C604.7,1934.6 624.8,1940.6 645.0,1947.0 C665.2,1953.4 684.9,1960.9 705.0,1968.0 C725.3,1975.2 745.6,1984.0 766.0,1990.0 C785.9,1995.9 805.7,1999.7 826.1,2004.0 C847.0,2008.4 868.9,2013.2 890.0,2016.0 C910.3,2018.7 926.5,2019.4 950.3,2021.0 C984.8,2023.4 1042.2,2023.7 1077.0,2028.0 C1101.7,2031.0 1119.6,2034.6 1140.0,2040.0 C1159.9,2045.3 1179.5,2051.2 1197.8,2060.0 C1216.2,2068.8 1233.2,2080.6 1250.0,2093.0 C1267.3,2105.8 1284.7,2120.7 1299.9,2136.0 C1314.6,2150.8 1326.5,2167.0 1340.0,2183.0 C1354.0,2199.6 1366.8,2213.7 1382.4,2234.1 C1403.9,2262.4 1431.2,2303.4 1455.2,2338.4 C1479.3,2373.5 1503.5,2408.9 1526.9,2444.4 C1550.2,2479.8 1570.4,2516.7 1595.1,2551.1 C1620.0,2585.8 1649.9,2621.9 1675.8,2651.7 C1697.9,2677.1 1718.6,2702.8 1740.0,2720.0 C1757.0,2733.7 1774.0,2740.3 1791.0,2750.5" fill="none" stroke="#0000ff" stroke-width="4.2" stroke-linejoin="round" stroke-linecap="round" />
<path d="M343.8,1692.0 C377.9,1714.0 412.9,1734.9 446.0,1758.0 C478.8,1780.9 508.4,1807.8 541.5,1829.8 C574.6,1851.8 608.4,1873.7 644.5,1890.0 C680.8,1906.3 720.5,1916.1 758.8,1927.5 C796.8,1938.8 836.1,1945.2 873.5,1958.1 C911.0,1971.1 949.5,1985.1 983.5,2005.3 C1017.5,2025.6 1048.2,2052.7 1077.5,2079.6 C1106.7,2106.5 1133.0,2136.3 1159.0,2166.6 C1185.4,2197.4 1209.7,2230.9 1234.6,2263.0 C1259.2,2294.8 1283.0,2326.9 1307.5,2358.5 C1332.0,2390.0 1356.2,2421.5 1381.6,2452.2 C1407.1,2483.0 1432.8,2513.9 1460.4,2542.9 C1488.1,2571.9 1516.5,2600.9 1547.5,2626.3 C1578.4,2651.6 1611.1,2675.4 1646.0,2695.0 C1681.3,2714.8 1731.7,2736.3 1758.3,2744.5 C1772.1,2748.8 1780.1,2748.5 1791.0,2750.5" fill="none" stroke="#bc00bc" stroke-width="3.6" stroke-linejoin="round" stroke-linecap="round" />
<path d="M343.8,1676.0 C377.9,1697.6 411.8,1719.3 446.0,1740.8 C480.2,1762.3 515.6,1782.6 549.1,1805.0 C582.3,1827.2 615.3,1849.4 646.3,1874.6 C677.6,1900.1 707.8,1928.4 736.1,1957.1 C764.0,1985.4 788.4,2015.7 815.0,2045.6 C842.3,2076.3 871.2,2107.6 897.8,2139.1 C923.9,2170.1 947.8,2201.7 973.0,2233.1 C998.5,2264.9 1023.9,2297.4 1050.0,2328.7 C1075.9,2359.8 1101.7,2390.4 1128.8,2420.4 C1156.0,2450.5 1183.0,2481.2 1212.7,2508.9 C1242.4,2536.6 1274.2,2562.5 1306.9,2586.4 C1339.5,2610.2 1373.1,2633.1 1408.6,2652.0 C1444.1,2670.9 1482.1,2686.4 1520.0,2699.6 C1557.7,2712.7 1602.4,2723.5 1635.5,2730.8 C1660.0,2736.2 1679.4,2739.0 1700.0,2742.0 C1718.7,2744.8 1737.4,2747.1 1753.7,2748.5 C1767.2,2749.7 1778.6,2749.8 1791.0,2750.5" fill="none" stroke="#ff0000" stroke-width="4.2" stroke-linejoin="round" stroke-linecap="round" />
<path d="M322.8,2337.9L364.8,2379.9" stroke="#ff0000" stroke-width="2.3"/><path d="M322.8,2379.9L364.8,2337.9" stroke="#ffff00" stroke-width="2.3"/>
<path d="M434.2,2261.4L476.2,2303.4" stroke="#ffff00" stroke-width="2.3"/><path d="M434.2,2303.4L476.2,2261.4" stroke="#ff0000" stroke-width="2.3"/>
<path d="M553.4,2193.6L595.4,2235.6" stroke="#ff0000" stroke-width="2.3"/><path d="M553.4,2235.6L595.4,2193.6" stroke="#ffff00" stroke-width="2.3"/>
<path d="M673.9,2138.6L715.9,2180.6" stroke="#ffff00" stroke-width="2.3"/><path d="M673.9,2180.6L715.9,2138.6" stroke="#ff0000" stroke-width="2.3"/>
<path d="M800.0,2102.0L842.0,2144.0" stroke="#ff0000" stroke-width="2.3"/><path d="M800.0,2144.0L842.0,2102.0" stroke="#ffff00" stroke-width="2.3"/>
<path d="M939.6,2089.7L981.6,2131.7" stroke="#ffff00" stroke-width="2.3"/><path d="M939.6,2131.7L981.6,2089.7" stroke="#ff0000" stroke-width="2.3"/>
<path d="M1072.5,2099.8L1114.5,2141.8" stroke="#ff0000" stroke-width="2.3"/><path d="M1072.5,2141.8L1114.5,2099.8" stroke="#ffff00" stroke-width="2.3"/>
<path d="M1205.3,2124.2L1247.3,2166.2" stroke="#ffff00" stroke-width="2.3"/><path d="M1205.3,2166.2L1247.3,2124.2" stroke="#ff0000" stroke-width="2.3"/>
<path d="M1329.5,2172.3L1371.5,2214.3" stroke="#ff0000" stroke-width="2.3"/><path d="M1329.5,2214.3L1371.5,2172.3" stroke="#ffff00" stroke-width="2.3"/>
<path d="M1434.9,2257.1L1476.9,2299.1" stroke="#ffff00" stroke-width="2.3"/><path d="M1434.9,2299.1L1476.9,2257.1" stroke="#ff0000" stroke-width="2.3"/>
<path d="M1519.7,2360.2L1561.7,2402.2" stroke="#ff0000" stroke-width="2.3"/><path d="M1519.7,2402.2L1561.7,2360.2" stroke="#ffff00" stroke-width="2.3"/>
<path d="M1596.1,2476.1L1638.1,2518.1" stroke="#ffff00" stroke-width="2.3"/><path d="M1596.1,2518.1L1638.1,2476.1" stroke="#ff0000" stroke-width="2.3"/>
<path d="M1669.5,2590.6L1711.5,2632.6" stroke="#ff0000" stroke-width="2.3"/><path d="M1669.5,2632.6L1711.5,2590.6" stroke="#ffff00" stroke-width="2.3"/>
<path d="M1751.0,2696.0L1793.0,2738.0" stroke="#ffff00" stroke-width="2.3"/><path d="M1751.0,2738.0L1793.0,2696.0" stroke="#ff0000" stroke-width="2.3"/>
<path d="M343.8,1955.0L364.8,1991.0L322.8,1991.0Z" fill="none" stroke="#0000ff" stroke-width="2.8" stroke-linejoin="miter"/>
<path d="M459.3,1906.1L480.3,1942.1L438.3,1942.1Z" fill="none" stroke="#0000ff" stroke-width="2.8" stroke-linejoin="miter"/>
<path d="M584.0,1914.2L605.0,1950.2L563.0,1950.2Z" fill="none" stroke="#0000ff" stroke-width="2.8" stroke-linejoin="miter"/>
<path d="M705.0,1953.6L726.0,1989.6L684.0,1989.6Z" fill="none" stroke="#0000ff" stroke-width="2.8" stroke-linejoin="miter"/>
<path d="M826.1,1988.2L847.1,2024.2L805.1,2024.2Z" fill="none" stroke="#0000ff" stroke-width="2.8" stroke-linejoin="miter"/>
<path d="M950.3,2005.0L971.3,2041.0L929.3,2041.0Z" fill="none" stroke="#0000ff" stroke-width="2.8" stroke-linejoin="miter"/>
<path d="M1077.0,2011.8L1098.0,2047.8L1056.0,2047.8Z" fill="none" stroke="#0000ff" stroke-width="2.8" stroke-linejoin="miter"/>
<path d="M1197.8,2043.7L1218.8,2079.7L1176.8,2079.7Z" fill="none" stroke="#0000ff" stroke-width="2.8" stroke-linejoin="miter"/>
<path d="M1299.9,2119.2L1320.9,2155.2L1278.9,2155.2Z" fill="none" stroke="#0000ff" stroke-width="2.8" stroke-linejoin="miter"/>
<path d="M1382.4,2216.1L1403.4,2252.1L1361.4,2252.1Z" fill="none" stroke="#0000ff" stroke-width="2.8" stroke-linejoin="miter"/>
<path d="M1455.2,2320.4L1476.2,2356.4L1434.2,2356.4Z" fill="none" stroke="#0000ff" stroke-width="2.8" stroke-linejoin="miter"/>
<path d="M1526.9,2426.4L1547.9,2462.4L1505.9,2462.4Z" fill="none" stroke="#0000ff" stroke-width="2.8" stroke-linejoin="miter"/>
<path d="M1595.1,2533.1L1616.1,2569.1L1574.1,2569.1Z" fill="none" stroke="#0000ff" stroke-width="2.8" stroke-linejoin="miter"/>
<path d="M1675.8,2633.7L1696.8,2669.7L1654.8,2669.7Z" fill="none" stroke="#0000ff" stroke-width="2.8" stroke-linejoin="miter"/>
<path d="M1767.5,2722.0L1788.5,2758.0L1746.5,2758.0Z" fill="none" stroke="#0000ff" stroke-width="2.8" stroke-linejoin="miter"/>
<path d="M343.8,1674.3L365.5,1696.0L343.8,1717.7L322.1,1696.0Z" fill="none" stroke="#ff00ff" stroke-width="2.0"/>
<path d="M446.0,1736.3L467.7,1758.0L446.0,1779.7L424.3,1758.0Z" fill="none" stroke="#ff00ff" stroke-width="2.0"/>
<path d="M541.5,1808.1L563.2,1829.8L541.5,1851.5L519.8,1829.8Z" fill="none" stroke="#ff00ff" stroke-width="2.0"/>
<path d="M644.5,1868.3L666.2,1890.0L644.5,1911.7L622.8,1890.0Z" fill="none" stroke="#ff00ff" stroke-width="2.0"/>
<path d="M758.8,1905.8L780.5,1927.5L758.8,1949.2L737.1,1927.5Z" fill="none" stroke="#ff00ff" stroke-width="2.0"/>
<path d="M873.5,1936.4L895.2,1958.1L873.5,1979.8L851.8,1958.1Z" fill="none" stroke="#ff00ff" stroke-width="2.0"/>
<path d="M983.5,1983.6L1005.2,2005.3L983.5,2027.0L961.8,2005.3Z" fill="none" stroke="#ff00ff" stroke-width="2.0"/>
<path d="M1077.5,2057.9L1099.2,2079.6L1077.5,2101.3L1055.8,2079.6Z" fill="none" stroke="#ff00ff" stroke-width="2.0"/>
<path d="M1159.0,2144.9L1180.7,2166.6L1159.0,2188.3L1137.3,2166.6Z" fill="none" stroke="#ff00ff" stroke-width="2.0"/>
<path d="M1234.6,2241.3L1256.3,2263.0L1234.6,2284.7L1212.9,2263.0Z" fill="none" stroke="#ff00ff" stroke-width="2.0"/>
<path d="M1307.5,2336.8L1329.2,2358.5L1307.5,2380.2L1285.8,2358.5Z" fill="none" stroke="#ff00ff" stroke-width="2.0"/>
<path d="M1381.6,2430.5L1403.3,2452.2L1381.6,2473.9L1359.9,2452.2Z" fill="none" stroke="#ff00ff" stroke-width="2.0"/>
<path d="M1460.4,2521.2L1482.1,2542.9L1460.4,2564.6L1438.7,2542.9Z" fill="none" stroke="#ff00ff" stroke-width="2.0"/>
<path d="M1547.5,2604.6L1569.2,2626.3L1547.5,2648.0L1525.8,2626.3Z" fill="none" stroke="#ff00ff" stroke-width="2.0"/>
<path d="M1646.0,2673.3L1667.7,2695.0L1646.0,2716.7L1624.3,2695.0Z" fill="none" stroke="#ff00ff" stroke-width="2.0"/>
<path d="M1758.3,2722.8L1780.0,2744.5L1758.3,2766.2L1736.6,2744.5Z" fill="none" stroke="#ff00ff" stroke-width="2.0"/>
<circle cx="343.8" cy="1676.0" r="21.4" fill="none" stroke="#ff0000" stroke-width="2.5"/>
<circle cx="446.0" cy="1740.8" r="21.4" fill="none" stroke="#ff0000" stroke-width="2.5"/>
<circle cx="549.1" cy="1805.0" r="21.4" fill="none" stroke="#ff0000" stroke-width="2.5"/>
<circle cx="646.3" cy="1874.6" r="21.4" fill="none" stroke="#ff0000" stroke-width="2.5"/>
<circle cx="736.1" cy="1957.1" r="21.4" fill="none" stroke="#ff0000" stroke-width="2.5"/>
<circle cx="815.0" cy="2045.6" r="21.4" fill="none" stroke="#ff0000" stroke-width="2.5"/>
<circle cx="897.8" cy="2139.1" r="21.4" fill="none" stroke="#ff0000" stroke-width="2.5"/>
<circle cx="973.0" cy="2233.1" r="21.4" fill="none" stroke="#ff0000" stroke-width="2.5"/>
<circle cx="1050.0" cy="2328.7" r="21.4" fill="none" stroke="#ff0000" stroke-width="2.5"/>
<circle cx="1128.8" cy="2420.4" r="21.4" fill="none" stroke="#ff0000" stroke-width="2.5"/>
<circle cx="1212.7" cy="2508.9" r="21.4" fill="none" stroke="#ff0000" stroke-width="2.5"/>
<circle cx="1306.9" cy="2586.4" r="21.4" fill="none" stroke="#ff0000" stroke-width="2.5"/>
<circle cx="1408.6" cy="2652.0" r="21.4" fill="none" stroke="#ff0000" stroke-width="2.5"/>
<circle cx="1520.0" cy="2699.6" r="21.4" fill="none" stroke="#ff0000" stroke-width="2.5"/>
<circle cx="1635.5" cy="2730.8" r="21.4" fill="none" stroke="#ff0000" stroke-width="2.5"/>
<circle cx="1753.7" cy="2749.0" r="21.4" fill="none" stroke="#ff0000" stroke-width="2.5"/>
<text transform="translate(1491.9,1622.2) scale(0.970,1)" font-size="69.5" text-anchor="start"><tspan x="0.0" font-style="italic">B</tspan><tspan x="43.7" font-style="italic">r</tspan><tspan x="71.1" >=</tspan><tspan x="112.4" >2.0</tspan><tspan x="217.5" >T</tspan></text>
<text transform="translate(1493.2,1697.2) scale(0.970,1)" font-size="69.5" text-anchor="start"><tspan x="0.0" font-style="italic">z</tspan><tspan x="30.5" font-style="italic">/</tspan><tspan x="58.8" font-style="italic">L</tspan><tspan x="96.6" >=</tspan><tspan x="138.2" >0.50</tspan></text>
<circle cx="1403.6" cy="1759.4" r="20.0" fill="none" stroke="#ff0000" stroke-width="2.2"/>
<text transform="translate(1500.6,1781.7) scale(0.970,1)" font-size="69.5" text-anchor="start"><tspan x="0.0" font-style="italic" font-size="76">x</tspan><tspan x="39.7" font-size="48" dy="9.5">m</tspan><tspan x="76.3" dy="-9.5">/</tspan><tspan x="96.9" font-style="italic">L</tspan><tspan x="134.6" >=</tspan><tspan x="175.3" >0.0</tspan></text>
<path d="M1403.6,1826.8L1423.6,1846.8L1403.6,1866.8L1383.6,1846.8Z" fill="none" stroke="#ff00ff" stroke-width="2.2"/>
<text transform="translate(1500.6,1869.1) scale(0.970,1)" font-size="69.5" text-anchor="start"><tspan x="0.0" font-style="italic" font-size="76">x</tspan><tspan x="39.7" font-size="48" dy="9.5">m</tspan><tspan x="76.3" dy="-9.5">/</tspan><tspan x="96.9" font-style="italic">L</tspan><tspan x="134.6" >=</tspan><tspan x="175.3" >0.2</tspan></text>
<path d="M1403.6,1917.7L1422.1,1950.7L1385.1,1950.7Z" fill="none" stroke="#0000ff" stroke-width="3.0" stroke-linejoin="miter"/>
<text transform="translate(1500.6,1956.5) scale(0.970,1)" font-size="69.5" text-anchor="start"><tspan x="0.0" font-style="italic" font-size="76">x</tspan><tspan x="39.7" font-size="48" dy="9.5">m</tspan><tspan x="76.3" dy="-9.5">/</tspan><tspan x="96.9" font-style="italic">L</tspan><tspan x="134.6" >=</tspan><tspan x="175.3" >0.4</tspan></text>
<path d="M1382.6,2000.6L1424.6,2042.6" stroke="#ff0000" stroke-width="3.0"/><path d="M1382.6,2042.6L1424.6,2000.6" stroke="#ff0000" stroke-width="3.0"/><path d="M1382.6,2000.6L1424.6,2042.6M1382.6,2042.6L1424.6,2000.6" stroke="#ffff00" stroke-width="1.2" transform="translate(1.5,1.5)"/>
<text transform="translate(1500.6,2043.9) scale(0.970,1)" font-size="69.5" text-anchor="start"><tspan x="0.0" font-style="italic" font-size="76">x</tspan><tspan x="39.7" font-size="48" dy="9.5">m</tspan><tspan x="76.3" dy="-9.5">/</tspan><tspan x="96.9" font-style="italic">L</tspan><tspan x="134.6" >=</tspan><tspan x="175.3" >0.6</tspan></text>
<path d="M1380.6,2110.5L1426.6,2110.5M1403.6,2087.5L1403.6,2133.5" stroke="#000" stroke-width="5.0"/>
<text transform="translate(1500.6,2131.3) scale(0.970,1)" font-size="69.5" text-anchor="start"><tspan x="0.0" font-style="italic" font-size="76">x</tspan><tspan x="39.7" font-size="48" dy="9.5">m</tspan><tspan x="76.3" dy="-9.5">/</tspan><tspan x="96.9" font-style="italic">L</tspan><tspan x="134.6" >=</tspan><tspan x="175.3" >1.0</tspan></text>
<path d="M1791.0,2960.3V4194.6H337.0" fill="none" stroke="#000" stroke-width="4.4" stroke-linecap="square"/>
<path d="M337.0,4194.6V2960.3H1791.0" fill="none" stroke="#000" stroke-width="4.2" stroke-linecap="square"/>
<path d="M1791.0,2958.3V4196.6" fill="none" stroke="#000" stroke-width="5.6"/>
<path d="M321.0,2960.3H337.0" stroke="#000" stroke-width="3.6"/>
<path d="M321.0,3371.7H337.0" stroke="#000" stroke-width="3.6"/>
<path d="M321.0,3783.2H337.0" stroke="#000" stroke-width="3.6"/>
<path d="M321.0,4194.6H337.0" stroke="#000" stroke-width="3.6"/>
<text transform="translate(311.3,2984.3) scale(0.970,1)" font-size="69.5" text-anchor="end"><tspan >0.0003</tspan></text>
<text transform="translate(311.3,3395.7) scale(0.970,1)" font-size="69.5" text-anchor="end"><tspan >0.0002</tspan></text>
<text transform="translate(311.3,3807.2) scale(0.970,1)" font-size="69.5" text-anchor="end"><tspan >0.0001</tspan></text>
<text transform="translate(311.3,4218.6) scale(0.970,1)" font-size="69.5" text-anchor="end"><tspan >0</tspan></text>
<path d="M337.0,4194.6V4210.6" stroke="#000" stroke-width="3.6"/>
<path d="M627.8,4194.6V4210.6" stroke="#000" stroke-width="3.6"/>
<path d="M918.6,4194.6V4210.6" stroke="#000" stroke-width="3.6"/>
<path d="M1209.4,4194.6V4210.6" stroke="#000" stroke-width="3.6"/>
<path d="M1500.2,4194.6V4210.6" stroke="#000" stroke-width="3.6"/>
<path d="M1791.0,4194.6V4210.6" stroke="#000" stroke-width="3.6"/>
<text transform="translate(337.0,4281.4) scale(0.970,1)" font-size="69.5" text-anchor="middle"><tspan >0</tspan></text>
<text transform="translate(627.8,4281.4) scale(0.970,1)" font-size="69.5" text-anchor="middle"><tspan >0.2</tspan></text>
<text transform="translate(918.6,4281.4) scale(0.970,1)" font-size="69.5" text-anchor="middle"><tspan >0.4</tspan></text>
<text transform="translate(1209.4,4281.4) scale(0.970,1)" font-size="69.5" text-anchor="middle"><tspan >0.6</tspan></text>
<text transform="translate(1500.2,4281.4) scale(0.970,1)" font-size="69.5" text-anchor="middle"><tspan >0.8</tspan></text>
<text transform="translate(1791.0,4281.4) scale(0.970,1)" font-size="69.5" text-anchor="middle"><tspan >1</tspan></text>
<text x="998.8" y="4349.5" font-size="84" font-style="italic">x<tspan x="1039.5">/</tspan><tspan x="1070.6">L</tspan></text>
<text transform="translate(89.9,3613.1) rotate(-90)" font-size="84" font-style="italic">F<tspan font-size="48" dx="4.4" dy="11.0">z</tspan></text>
<text x="455.8" y="3090.4" font-size="77">(c)</text>
<path d="M320.5,3912.6L366.5,3912.6M343.5,3889.6L343.5,3935.6" stroke="#6a6a6a" stroke-width="2.4"/>
<path d="M435.4,3867.2L481.4,3867.2M458.4,3844.2L458.4,3890.2" stroke="#6a6a6a" stroke-width="2.4"/>
<path d="M552.7,3821.4L598.7,3821.4M575.7,3798.4L575.7,3844.4" stroke="#6a6a6a" stroke-width="2.4"/>
<path d="M668.2,3777.8L714.2,3777.8M691.2,3754.8L691.2,3800.8" stroke="#6a6a6a" stroke-width="2.4"/>
<path d="M786.5,3736.6L832.5,3736.6M809.5,3713.6L809.5,3759.6" stroke="#6a6a6a" stroke-width="2.4"/>
<path d="M908.7,3710.2L954.7,3710.2M931.7,3687.2L931.7,3733.2" stroke="#6a6a6a" stroke-width="2.4"/>
<path d="M1030.6,3703.3L1076.6,3703.3M1053.6,3680.3L1053.6,3726.3" stroke="#6a6a6a" stroke-width="2.4"/>
<path d="M1153.5,3722.8L1199.5,3722.8M1176.5,3699.8L1176.5,3745.8" stroke="#6a6a6a" stroke-width="2.4"/>
<path d="M1267.5,3769.9L1313.5,3769.9M1290.5,3746.9L1290.5,3792.9" stroke="#6a6a6a" stroke-width="2.4"/>
<path d="M1372.5,3837.0L1418.5,3837.0M1395.5,3814.0L1395.5,3860.0" stroke="#6a6a6a" stroke-width="2.4"/>
<path d="M1471.6,3914.7L1517.6,3914.7M1494.6,3891.7L1494.6,3937.7" stroke="#6a6a6a" stroke-width="2.4"/>
<path d="M1565.4,3997.5L1611.4,3997.5M1588.4,3974.5L1588.4,4020.5" stroke="#6a6a6a" stroke-width="2.4"/>
<path d="M1654.9,4086.2L1700.9,4086.2M1677.9,4063.2L1677.9,4109.2" stroke="#6a6a6a" stroke-width="2.4"/>
<path d="M1743.6,4162.5L1789.6,4162.5M1766.6,4139.5L1766.6,4185.5" stroke="#6a6a6a" stroke-width="2.4"/>
<path d="M343.5,3912.6 C381.8,3897.5 419.9,3882.3 458.4,3867.2 C497.3,3851.9 536.7,3836.4 575.7,3821.4 C614.3,3806.6 652.4,3791.9 691.2,3777.8 C730.3,3763.6 769.4,3747.9 809.5,3736.6 C849.6,3725.3 890.8,3715.7 931.7,3710.2 C972.1,3704.7 1013.0,3701.3 1053.6,3703.3 C1094.6,3705.4 1136.9,3711.7 1176.5,3722.8 C1215.9,3733.9 1254.1,3750.9 1290.5,3769.9 C1327.1,3789.0 1361.6,3812.9 1395.5,3837.0 C1429.6,3861.2 1462.4,3887.9 1494.6,3914.7 C1526.7,3941.4 1557.9,3969.0 1588.4,3997.5 C1619.0,4026.1 1647.6,4058.2 1677.9,4086.2 C1707.1,4113.1 1746.9,4141.6 1766.6,4162.5 C1778.1,4174.8 1782.9,4183.9 1791.0,4194.6" fill="none" stroke="#000" stroke-width="4.2" stroke-linejoin="round" stroke-linecap="round" />
<path d="M343.8,3504.0 C384.4,3486.3 423.9,3465.0 465.7,3451.0 C507.3,3437.1 550.6,3426.7 594.0,3420.2 C637.7,3413.6 683.0,3410.0 727.0,3411.8 C770.8,3413.6 814.4,3421.8 857.5,3430.6 C900.7,3439.5 944.0,3450.4 985.8,3465.0 C1027.8,3479.7 1069.5,3498.4 1108.9,3518.6 C1147.5,3538.4 1183.4,3561.0 1220.0,3584.8 C1257.4,3609.1 1295.8,3634.7 1330.8,3663.1 C1365.6,3691.4 1398.1,3723.0 1429.4,3754.8 C1460.4,3786.3 1489.1,3819.4 1518.0,3852.8 C1547.2,3886.5 1575.6,3921.2 1603.7,3956.2 C1632.0,3991.4 1657.8,4028.7 1687.4,4063.5 C1717.5,4098.9 1769.0,4141.8 1783.0,4166.6 C1789.4,4177.9 1788.3,4185.3 1791.0,4194.6" fill="none" stroke="#ff0000" stroke-width="3.6" stroke-linejoin="round" stroke-linecap="round" /><path d="M343.8,3504.0 C384.4,3486.3 423.9,3465.0 465.7,3451.0 C507.3,3437.1 550.6,3426.7 594.0,3420.2 C637.7,3413.6 683.0,3410.0 727.0,3411.8 C770.8,3413.6 814.4,3421.8 857.5,3430.6 C900.7,3439.5 944.0,3450.4 985.8,3465.0 C1027.8,3479.7 1069.5,3498.4 1108.9,3518.6 C1147.5,3538.4 1183.4,3561.0 1220.0,3584.8 C1257.4,3609.1 1295.8,3634.7 1330.8,3663.1 C1365.6,3691.4 1398.1,3723.0 1429.4,3754.8 C1460.4,3786.3 1489.1,3819.4 1518.0,3852.8 C1547.2,3886.5 1575.6,3921.2 1603.7,3956.2 C1632.0,3991.4 1657.8,4028.7 1687.4,4063.5 C1717.5,4098.9 1769.0,4141.8 1783.0,4166.6 C1789.4,4177.9 1788.3,4185.3 1791.0,4194.6" fill="none" stroke="#ffff00" stroke-width="1.4" stroke-linejoin="round" stroke-linecap="round" stroke-dasharray="3,14"/>
<path d="M344.7,3318.0 C363.1,3315.3 380.6,3311.8 400.0,3310.0 C421.3,3308.0 445.3,3307.0 467.3,3307.0 C488.6,3307.0 509.1,3308.0 530.0,3310.0 C551.0,3312.0 568.7,3314.9 593.1,3319.0 C627.4,3324.8 675.3,3333.5 716.0,3343.0 C756.7,3352.5 797.0,3364.5 837.3,3376.0 C877.6,3387.5 917.9,3398.5 957.6,3412.0 C997.4,3425.5 1037.3,3439.5 1075.5,3457.0 C1113.7,3474.5 1151.5,3494.4 1186.9,3517.0 C1222.1,3539.5 1255.6,3564.6 1287.1,3592.0 C1318.8,3619.6 1348.0,3650.9 1376.6,3682.0 C1405.1,3713.0 1431.8,3745.5 1458.4,3778.0 C1484.9,3810.5 1511.0,3843.7 1536.0,3877.0 C1560.8,3910.0 1583.0,3943.5 1607.8,3977.0 C1633.4,4011.5 1661.6,4050.4 1687.2,4081.0 C1708.8,4106.9 1731.3,4129.5 1750.0,4150.0 C1765.1,4166.5 1777.3,4179.7 1791.0,4194.6" fill="none" stroke="#0000ff" stroke-width="4.2" stroke-linejoin="round" stroke-linecap="round" />
<path d="M343.8,3239.4 C380.6,3249.6 417.4,3259.8 454.3,3270.1 C491.5,3280.4 529.5,3289.6 566.1,3301.2 C602.1,3312.6 637.1,3324.6 672.0,3338.8 C707.5,3353.2 743.4,3369.2 777.4,3387.2 C811.3,3405.2 844.0,3425.3 875.8,3446.7 C907.8,3468.3 938.8,3492.1 968.9,3516.3 C998.7,3540.3 1027.2,3565.2 1055.5,3591.0 C1084.0,3617.1 1111.8,3644.8 1139.3,3672.2 C1166.6,3699.4 1193.0,3727.3 1219.9,3754.8 C1246.9,3782.3 1273.8,3809.9 1301.0,3837.3 C1328.3,3864.8 1355.3,3892.8 1383.3,3919.5 C1411.2,3946.2 1439.6,3972.4 1468.8,3997.5 C1497.9,4022.5 1527.3,4047.2 1558.3,4069.7 C1589.4,4092.3 1621.7,4114.2 1655.2,4132.8 C1688.4,4151.3 1733.6,4170.0 1758.4,4181.0 C1772.2,4187.1 1780.1,4190.1 1791.0,4194.6" fill="none" stroke="#ff0000" stroke-width="4.2" stroke-linejoin="round" stroke-linecap="round" />
<path d="M343.8,3241.7 C380.9,3250.1 417.9,3257.5 455.2,3266.9 C493.3,3276.5 531.7,3289.4 569.8,3299.0 C607.3,3308.4 644.4,3315.5 682.0,3324.2 C720.0,3333.0 759.0,3340.5 796.6,3351.6 C834.0,3362.7 871.0,3376.1 907.0,3390.7 C942.7,3405.2 977.7,3420.8 1011.7,3438.6 C1045.8,3456.5 1080.0,3475.0 1111.2,3498.0 C1142.9,3521.4 1171.3,3550.6 1200.0,3578.0 C1228.5,3605.2 1255.9,3633.0 1282.7,3661.7 C1309.5,3690.4 1334.6,3720.8 1360.6,3750.2 C1386.5,3779.5 1413.3,3807.9 1438.6,3837.6 C1463.9,3867.3 1487.4,3898.2 1512.4,3928.5 C1537.6,3959.1 1562.5,3991.0 1589.2,4020.2 C1615.6,4049.0 1642.8,4076.9 1671.7,4102.7 C1700.5,4128.4 1740.6,4158.5 1762.5,4174.8 C1774.5,4183.7 1781.5,4188.0 1791.0,4194.6" fill="none" stroke="#bc00bc" stroke-width="3.6" stroke-linejoin="round" stroke-linecap="round" />
<path d="M322.8,3483.0L364.8,3525.0" stroke="#ffff00" stroke-width="2.3"/><path d="M322.8,3525.0L364.8,3483.0" stroke="#ff0000" stroke-width="2.3"/>
<path d="M444.7,3430.0L486.7,3472.0" stroke="#ff0000" stroke-width="2.3"/><path d="M444.7,3472.0L486.7,3430.0" stroke="#ffff00" stroke-width="2.3"/>
<path d="M573.0,3399.2L615.0,3441.2" stroke="#ffff00" stroke-width="2.3"/><path d="M573.0,3441.2L615.0,3399.2" stroke="#ff0000" stroke-width="2.3"/>
<path d="M706.0,3390.8L748.0,3432.8" stroke="#ff0000" stroke-width="2.3"/><path d="M706.0,3432.8L748.0,3390.8" stroke="#ffff00" stroke-width="2.3"/>
<path d="M836.5,3409.6L878.5,3451.6" stroke="#ffff00" stroke-width="2.3"/><path d="M836.5,3451.6L878.5,3409.6" stroke="#ff0000" stroke-width="2.3"/>
<path d="M964.8,3444.0L1006.8,3486.0" stroke="#ff0000" stroke-width="2.3"/><path d="M964.8,3486.0L1006.8,3444.0" stroke="#ffff00" stroke-width="2.3"/>
<path d="M1087.9,3497.6L1129.9,3539.6" stroke="#ffff00" stroke-width="2.3"/><path d="M1087.9,3539.6L1129.9,3497.6" stroke="#ff0000" stroke-width="2.3"/>
<path d="M1199.0,3563.8L1241.0,3605.8" stroke="#ff0000" stroke-width="2.3"/><path d="M1199.0,3605.8L1241.0,3563.8" stroke="#ffff00" stroke-width="2.3"/>
<path d="M1309.8,3642.1L1351.8,3684.1" stroke="#ffff00" stroke-width="2.3"/><path d="M1309.8,3684.1L1351.8,3642.1" stroke="#ff0000" stroke-width="2.3"/>
<path d="M1408.4,3733.8L1450.4,3775.8" stroke="#ff0000" stroke-width="2.3"/><path d="M1408.4,3775.8L1450.4,3733.8" stroke="#ffff00" stroke-width="2.3"/>
<path d="M1497.0,3831.8L1539.0,3873.8" stroke="#ffff00" stroke-width="2.3"/><path d="M1497.0,3873.8L1539.0,3831.8" stroke="#ff0000" stroke-width="2.3"/>
<path d="M1582.7,3935.2L1624.7,3977.2" stroke="#ff0000" stroke-width="2.3"/><path d="M1582.7,3977.2L1624.7,3935.2" stroke="#ffff00" stroke-width="2.3"/>
<path d="M1666.4,4042.5L1708.4,4084.5" stroke="#ffff00" stroke-width="2.3"/><path d="M1666.4,4084.5L1708.4,4042.5" stroke="#ff0000" stroke-width="2.3"/>
<path d="M1762.0,4145.6L1804.0,4187.6" stroke="#ff0000" stroke-width="2.3"/><path d="M1762.0,4187.6L1804.0,4145.6" stroke="#ffff00" stroke-width="2.3"/>
<path d="M344.7,3302.3L365.7,3338.3L323.7,3338.3Z" fill="none" stroke="#0000ff" stroke-width="2.8" stroke-linejoin="miter"/>
<path d="M467.3,3292.9L488.3,3328.9L446.3,3328.9Z" fill="none" stroke="#0000ff" stroke-width="2.8" stroke-linejoin="miter"/>
<path d="M593.1,3304.5L614.1,3340.5L572.1,3340.5Z" fill="none" stroke="#0000ff" stroke-width="2.8" stroke-linejoin="miter"/>
<path d="M716.0,3329.5L737.0,3365.5L695.0,3365.5Z" fill="none" stroke="#0000ff" stroke-width="2.8" stroke-linejoin="miter"/>
<path d="M837.3,3361.7L858.3,3397.7L816.3,3397.7Z" fill="none" stroke="#0000ff" stroke-width="2.8" stroke-linejoin="miter"/>
<path d="M957.6,3396.6L978.6,3432.6L936.6,3432.6Z" fill="none" stroke="#0000ff" stroke-width="2.8" stroke-linejoin="miter"/>
<path d="M1075.5,3440.6L1096.5,3476.6L1054.5,3476.6Z" fill="none" stroke="#0000ff" stroke-width="2.8" stroke-linejoin="miter"/>
<path d="M1186.9,3500.3L1207.9,3536.3L1165.9,3536.3Z" fill="none" stroke="#0000ff" stroke-width="2.8" stroke-linejoin="miter"/>
<path d="M1287.1,3576.4L1308.1,3612.4L1266.1,3612.4Z" fill="none" stroke="#0000ff" stroke-width="2.8" stroke-linejoin="miter"/>
<path d="M1376.6,3665.7L1397.6,3701.7L1355.6,3701.7Z" fill="none" stroke="#0000ff" stroke-width="2.8" stroke-linejoin="miter"/>
<path d="M1458.4,3761.8L1479.4,3797.8L1437.4,3797.8Z" fill="none" stroke="#0000ff" stroke-width="2.8" stroke-linejoin="miter"/>
<path d="M1536.0,3861.0L1557.0,3897.0L1515.0,3897.0Z" fill="none" stroke="#0000ff" stroke-width="2.8" stroke-linejoin="miter"/>
<path d="M1607.8,3961.3L1628.8,3997.3L1586.8,3997.3Z" fill="none" stroke="#0000ff" stroke-width="2.8" stroke-linejoin="miter"/>
<path d="M1687.2,4065.7L1708.2,4101.7L1666.2,4101.7Z" fill="none" stroke="#0000ff" stroke-width="2.8" stroke-linejoin="miter"/>
<path d="M1772.8,4161.0L1793.8,4197.0L1751.8,4197.0Z" fill="none" stroke="#0000ff" stroke-width="2.8" stroke-linejoin="miter"/>
<path d="M343.8,3220.0L365.5,3241.7L343.8,3263.4L322.1,3241.7Z" fill="none" stroke="#ff00ff" stroke-width="2.0"/>
<path d="M455.2,3245.2L476.9,3266.9L455.2,3288.6L433.5,3266.9Z" fill="none" stroke="#ff00ff" stroke-width="2.0"/>
<path d="M569.8,3277.3L591.5,3299.0L569.8,3320.7L548.1,3299.0Z" fill="none" stroke="#ff00ff" stroke-width="2.0"/>
<path d="M682.0,3302.5L703.7,3324.2L682.0,3345.9L660.3,3324.2Z" fill="none" stroke="#ff00ff" stroke-width="2.0"/>
<path d="M796.6,3329.9L818.3,3351.6L796.6,3373.3L774.9,3351.6Z" fill="none" stroke="#ff00ff" stroke-width="2.0"/>
<path d="M907.0,3369.0L928.7,3390.7L907.0,3412.4L885.3,3390.7Z" fill="none" stroke="#ff00ff" stroke-width="2.0"/>
<path d="M1011.7,3416.9L1033.4,3438.6L1011.7,3460.3L990.0,3438.6Z" fill="none" stroke="#ff00ff" stroke-width="2.0"/>
<path d="M1111.2,3476.3L1132.9,3498.0L1111.2,3519.7L1089.5,3498.0Z" fill="none" stroke="#ff00ff" stroke-width="2.0"/>
<path d="M1200.0,3556.3L1221.7,3578.0L1200.0,3599.7L1178.3,3578.0Z" fill="none" stroke="#ff00ff" stroke-width="2.0"/>
<path d="M1282.7,3640.0L1304.4,3661.7L1282.7,3683.4L1261.0,3661.7Z" fill="none" stroke="#ff00ff" stroke-width="2.0"/>
<path d="M1360.6,3728.5L1382.3,3750.2L1360.6,3771.9L1338.9,3750.2Z" fill="none" stroke="#ff00ff" stroke-width="2.0"/>
<path d="M1438.6,3815.9L1460.3,3837.6L1438.6,3859.3L1416.9,3837.6Z" fill="none" stroke="#ff00ff" stroke-width="2.0"/>
<path d="M1512.4,3906.8L1534.1,3928.5L1512.4,3950.2L1490.7,3928.5Z" fill="none" stroke="#ff00ff" stroke-width="2.0"/>
<path d="M1589.2,3998.5L1610.9,4020.2L1589.2,4041.9L1567.5,4020.2Z" fill="none" stroke="#ff00ff" stroke-width="2.0"/>
<path d="M1671.7,4081.0L1693.4,4102.7L1671.7,4124.4L1650.0,4102.7Z" fill="none" stroke="#ff00ff" stroke-width="2.0"/>
<path d="M1762.5,4153.1L1784.2,4174.8L1762.5,4196.5L1740.8,4174.8Z" fill="none" stroke="#ff00ff" stroke-width="2.0"/>
<circle cx="343.8" cy="3239.4" r="21.4" fill="none" stroke="#ff0000" stroke-width="2.5"/>
<circle cx="454.3" cy="3270.1" r="21.4" fill="none" stroke="#ff0000" stroke-width="2.5"/>
<circle cx="566.1" cy="3301.2" r="21.4" fill="none" stroke="#ff0000" stroke-width="2.5"/>
<circle cx="672.0" cy="3338.8" r="21.4" fill="none" stroke="#ff0000" stroke-width="2.5"/>
<circle cx="777.4" cy="3387.2" r="21.4" fill="none" stroke="#ff0000" stroke-width="2.5"/>
<circle cx="875.8" cy="3446.7" r="21.4" fill="none" stroke="#ff0000" stroke-width="2.5"/>
<circle cx="968.9" cy="3516.3" r="21.4" fill="none" stroke="#ff0000" stroke-width="2.5"/>
<circle cx="1055.5" cy="3591.0" r="21.4" fill="none" stroke="#ff0000" stroke-width="2.5"/>
<circle cx="1139.3" cy="3672.2" r="21.4" fill="none" stroke="#ff0000" stroke-width="2.5"/>
<circle cx="1219.9" cy="3754.8" r="21.4" fill="none" stroke="#ff0000" stroke-width="2.5"/>
<circle cx="1301.0" cy="3837.3" r="21.4" fill="none" stroke="#ff0000" stroke-width="2.5"/>
<circle cx="1383.3" cy="3919.5" r="21.4" fill="none" stroke="#ff0000" stroke-width="2.5"/>
<circle cx="1468.8" cy="3997.5" r="21.4" fill="none" stroke="#ff0000" stroke-width="2.5"/>
<circle cx="1558.3" cy="4069.7" r="21.4" fill="none" stroke="#ff0000" stroke-width="2.5"/>
<circle cx="1655.2" cy="4132.8" r="21.4" fill="none" stroke="#ff0000" stroke-width="2.5"/>
<circle cx="1758.4" cy="4181.0" r="21.4" fill="none" stroke="#ff0000" stroke-width="2.5"/>
<text transform="translate(1491.9,3042.2) scale(0.970,1)" font-size="69.5" text-anchor="start"><tspan x="0.0" font-style="italic">B</tspan><tspan x="43.7" font-style="italic">r</tspan><tspan x="71.1" >=</tspan><tspan x="112.4" >2.0</tspan><tspan x="217.5" >T</tspan></text>
<text transform="translate(1493.2,3117.2) scale(0.970,1)" font-size="69.5" text-anchor="start"><tspan x="0.0" font-style="italic">z</tspan><tspan x="30.5" font-style="italic">/</tspan><tspan x="58.8" font-style="italic">L</tspan><tspan x="96.6" >=</tspan><tspan x="138.2" >0.90</tspan></text>
<circle cx="1403.6" cy="3179.4" r="20.0" fill="none" stroke="#ff0000" stroke-width="2.2"/>
<text transform="translate(1500.6,3201.7) scale(0.970,1)" font-size="69.5" text-anchor="start"><tspan x="0.0" font-style="italic" font-size="76">x</tspan><tspan x="39.7" font-size="48" dy="9.5">m</tspan><tspan x="76.3" dy="-9.5">/</tspan><tspan x="96.9" font-style="italic">L</tspan><tspan x="134.6" >=</tspan><tspan x="175.3" >0.0</tspan></text>
<path d="M1403.6,3246.8L1423.6,3266.8L1403.6,3286.8L1383.6,3266.8Z" fill="none" stroke="#ff00ff" stroke-width="2.2"/>
<text transform="translate(1500.6,3289.1) scale(0.970,1)" font-size="69.5" text-anchor="start"><tspan x="0.0" font-style="italic" font-size="76">x</tspan><tspan x="39.7" font-size="48" dy="9.5">m</tspan><tspan x="76.3" dy="-9.5">/</tspan><tspan x="96.9" font-style="italic">L</tspan><tspan x="134.6" >=</tspan><tspan x="175.3" >0.2</tspan></text>
<path d="M1403.6,3337.7L1422.1,3370.7L1385.1,3370.7Z" fill="none" stroke="#0000ff" stroke-width="3.0" stroke-linejoin="miter"/>
<text transform="translate(1500.6,3376.5) scale(0.970,1)" font-size="69.5" text-anchor="start"><tspan x="0.0" font-style="italic" font-size="76">x</tspan><tspan x="39.7" font-size="48" dy="9.5">m</tspan><tspan x="76.3" dy="-9.5">/</tspan><tspan x="96.9" font-style="italic">L</tspan><tspan x="134.6" >=</tspan><tspan x="175.3" >0.4</tspan></text>
<path d="M1382.6,3420.6L1424.6,3462.6" stroke="#ff0000" stroke-width="3.0"/><path d="M1382.6,3462.6L1424.6,3420.6" stroke="#ff0000" stroke-width="3.0"/><path d="M1382.6,3420.6L1424.6,3462.6M1382.6,3462.6L1424.6,3420.6" stroke="#ffff00" stroke-width="1.2" transform="translate(1.5,1.5)"/>
<text transform="translate(1500.6,3463.9) scale(0.970,1)" font-size="69.5" text-anchor="start"><tspan x="0.0" font-style="italic" font-size="76">x</tspan><tspan x="39.7" font-size="48" dy="9.5">m</tspan><tspan x="76.3" dy="-9.5">/</tspan><tspan x="96.9" font-style="italic">L</tspan><tspan x="134.6" >=</tspan><tspan x="175.3" >0.6</tspan></text>
<path d="M1380.6,3530.5L1426.6,3530.5M1403.6,3507.5L1403.6,3553.5" stroke="#000" stroke-width="5.0"/>
<text transform="translate(1500.6,3551.3) scale(0.970,1)" font-size="69.5" text-anchor="start"><tspan x="0.0" font-style="italic" font-size="76">x</tspan><tspan x="39.7" font-size="48" dy="9.5">m</tspan><tspan x="76.3" dy="-9.5">/</tspan><tspan x="96.9" font-style="italic">L</tspan><tspan x="134.6" >=</tspan><tspan x="175.3" >1.0</tspan></text>
</svg>
</body></html>
